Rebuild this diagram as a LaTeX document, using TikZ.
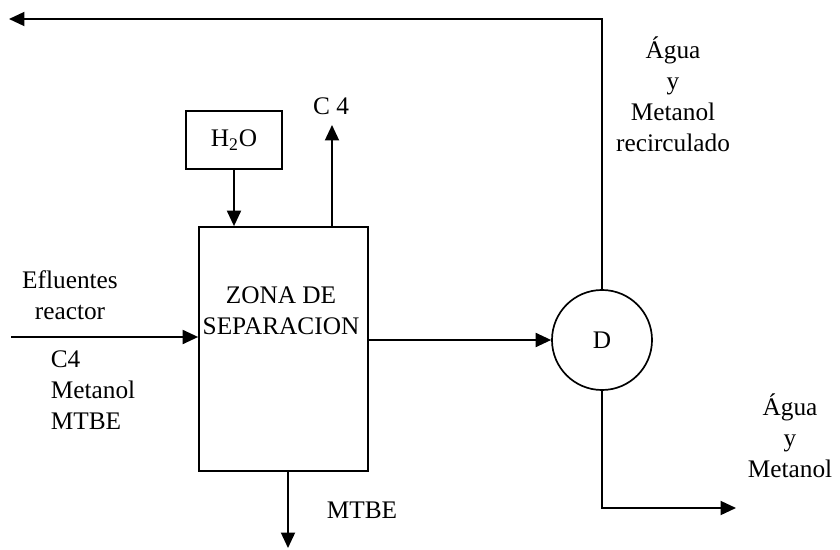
\documentclass[tikz,border=0pt]{standalone}
\usepackage{fontspec}
\setmainfont{Liberation Serif}
\usetikzlibrary{arrows.meta}
\begin{document}
\begin{tikzpicture}[x=0.025cm,y=-0.025cm,>={Triangle[length=11pt,width=10pt]},
   line width=1.2pt, every node/.style={font=\fontsize{18}{22}\selectfont},
   caja/.style={draw,rectangle,inner sep=0pt},
   txt/.style={align=center,inner sep=0pt}]
   \useasboundingbox (0,0) rectangle (840,550);
         \node[caja,minimum width=4.225cm,minimum height=6.1cm] (zona) at (283.5,349) {};
         \node[txt] (zonatxt) at (281,311) {ZONA DE\\SEPARACION};
         \node[caja,minimum width=2.4cm,minimum height=1.45cm] (agua) at (234,140) {H\textsubscript{2}O};
         \node[draw,circle,minimum size=2.5cm,inner sep=0pt] (D) at (602,340) {D};
         \coordinate (recout) at (9,19);
         \coordinate (feed) at (11,337);
         \coordinate (c4end) at (332,125);
         \coordinate (mtbeend) at (288,548);
         \coordinate (aguaout) at (736,508);
         \draw[->] (D.north) |- (recout);
         \draw[->] (feed) -- (feed -| zona.west);
         \draw[->] (agua.south) -- (agua.south |- zona.north);
         \draw[->] (c4end |- zona.north) -- (c4end);
         \draw[->] (zona.east |- D.west) -- (D.west);
         \draw[->] (mtbeend |- zona.south) -- (mtbeend);
         \draw[->] (D.south) |- (aguaout);
         \node[txt] (c4lbl) at (331,106) {C 4};
         \node[txt] (efl) at (70,295) {Efluentes\\reactor};
         \node[txt,align=left,anchor=west] (comp) at (50,390) {C4\\Metanol\\MTBE};
         \node[txt] (mtbe) at (362,510) {MTBE};
         \node[txt] (recirc) at (673,94) {Água\\y\\Metanol\\recirculado};
         \node[txt] (salida) at (790,436) {Água\\y\\Metanol};
      \end{tikzpicture}
\end{document}
